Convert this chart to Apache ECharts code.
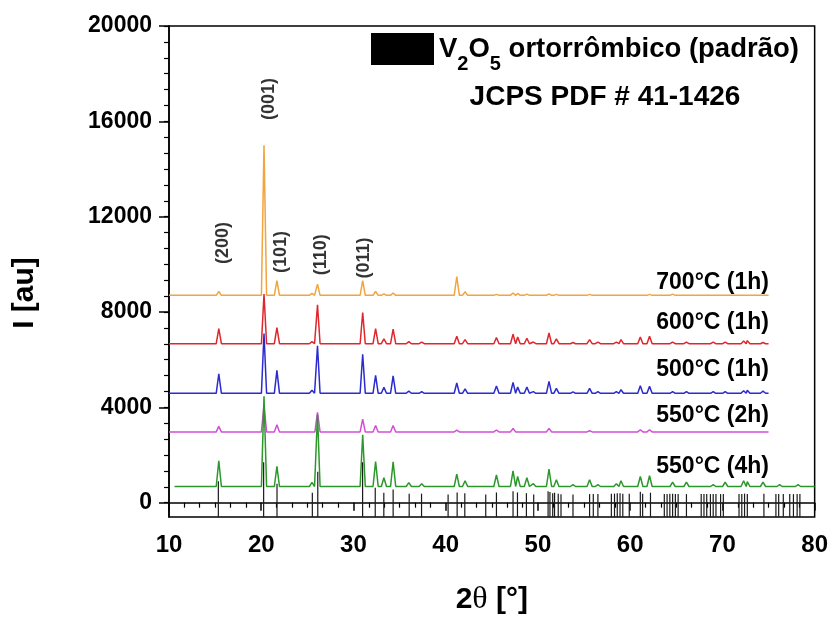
<!DOCTYPE html>
<html>
<head>
<meta charset="utf-8">
<title>DRX V2O5</title>
<script src="https://cdn.jsdelivr.net/npm/echarts@6.0.0/dist/echarts.min.js"></script>
<style>
    html, body { margin: 0; padding: 0; background: #fff; }
    #chart { width: 831px; height: 623px; }
</style>
</head>
<body>
<div id="chart"></div>
<script>
    var FONT = '"Liberation Sans", Arial, sans-serif';

    // posicoes dos picos (2theta) usadas pelas curvas
    var peakPos = [15.4, 20.3, 21.7, 25.5, 26.1, 31.0, 32.4, 33.3, 34.3, 36.0, 37.4, 41.2, 42.1, 45.5, 47.3, 47.8,
        48.8, 49.5, 51.2, 52.0, 53.8, 55.6, 56.5, 58.5, 59.0, 61.1, 62.1, 64.6, 66.1, 69.0, 70.3, 72.3, 72.7, 74.4, 76.2, 78.2];

    // intensidades (null = sem pico visivel)
    var base700 = 8700;
    var peaks700 = [8860, 15000, 9320, 8780, 9170, 9320, 8860, 8760, 8800, null, null, 9490, 8850, 8740, 8800, 8780,
        8750, null, 8760, 8740, null, 8740, null, null, null, null, 8740, 8750, null, null, null, null, null, null, null, null];
    var base600 = 6670;
    var peaks600 = [7300, 8750, 7350, 6760, 8300, 7980, 7300, 6870, 7280, 6760, 6740, 6980, 6840, 6930, 7070, 6950,
        6900, 6740, 7120, 6870, 6720, 6840, 6740, 6740, 6840, 6950, 6980, 6740, 6740, 6740, 6740, 6780, 6800, 6720, null, null];
    var base500 = 4590;
    var peaks500 = [5410, 7100, 5550, 4720, 6580, 6230, 5340, 4840, 5320, 4680, 4660, 5020, 4780, 4900, 5050, 4850,
        4850, 4660, 5090, 4800, 4650, 4800, 4660, 4660, 4740, 4910, 4880, 4660, 4660, 4660, 4660, 4700, 4720, 4680, null, null];
    var base550_2h = 2970;
    var peaks550_2h = [3200, 4100, 3270, null, 3790, 3510, 3240, null, 3240, null, null, 3040, null, 3050, 3110, null,
        null, null, 3110, null, null, 3020, null, null, null, 3060, 3060, null, null, null, null, null, null, null, null, null];
    var base550_4h = 680;
    var peaks550_4h = [1760, 4460, 1520, 850, 3700, 2850, 1730, 1050, 1710, 840, 800, 1200, 920, 1170, 1340, 1100,
        1050, 800, 1410, 960, 760, 960, 760, 800, 920, 1100, 1130, 860, 860, 760, 860, 920, 880, 860, 760, 760];

    // padrao JCPDS 41-1426
    var stickPos = [15.35, 20.26, 21.71, 25.54, 26.13, 30.99, 32.36, 33.29, 34.30, 36.04, 37.38, 40.26, 41.24, 42.07,
        44.34, 45.50, 47.30, 47.78, 48.75, 49.54, 51.10, 51.30, 51.60, 51.80, 52.20, 52.50, 53.80, 55.60, 56.00, 56.50,
        57.96, 58.30, 58.60, 58.90, 59.20, 59.90, 61.10, 61.35, 62.20, 63.70, 64.00, 64.30, 64.60, 64.90, 65.20, 66.10,
        67.70, 68.00, 68.30, 68.70, 69.00, 69.30, 69.80, 70.10, 71.80, 72.10, 72.40, 72.70, 74.50, 75.80, 76.10, 76.60,
        77.30, 77.70, 78.10, 78.40];
    var stickVal = [900, 1700, 800, 420, 1300, 1700, 630, 420, 550, 380, 380, 340, 430, 400,
        340, 430, 480, 430, 400, 340, 480, 450, 400, 420, 380, 350, 340, 360, 360, 360,
        380, 380, 400, 400, 380, 380, 460, 380, 420, 360, 360, 380, 380, 360, 360, 360,
        360, 360, 360, 360, 360, 360, 360, 360, 360, 360, 380, 360, 380, 360, 360, 360,
        360, 360, 360, 360];

    var hklNames = ['(200)', '(001)', '(101)', '(110)', '(011)'];
    var hklX = [15.85, 20.8, 22.1, 26.5, 31.1];
    var hklY = [10900, 16940, 10520, 10400, 10270];

    var sampleNames = ['700°C (1h)', '600°C (1h)', '500°C (1h)', '550°C (2h)', '550°C (4h)'];
    var yTicks = [0, 4000, 8000, 12000, 16000, 20000];
    var yMin = -600;

    var yMinor = [];
    for (var i = 0; i <= 30; i++) {
        yMinor.push(i * 20000 / 30);
    }

    // monta a curva: linha de base + picos
    function pattern(base, peaks, start, end) {
        var pts = [[start, base]];
        for (var i = 0; i < peakPos.length; i++) {
            if (peaks[i] == null) continue;
            pts.push([peakPos[i] - 0.28, base], [peakPos[i], peaks[i]], [peakPos[i] + 0.28, base]);
        }
        pts.push([end, base]);
        return pts;
    }

    function lineSeries(name, color, data) {
        return {
            name: name,
            type: 'line',
            data: data,
            showSymbol: false,
            symbol: 'none',
            lineStyle: { color: color, width: 1.5 },
            itemStyle: { color: color },
            animation: false
        };
    }

    var chart = echarts.init(document.getElementById('chart'));

    var legendName = 'V2O5 padrao';
    var sticks = [];
    for (var s = 0; s < stickPos.length; s++) sticks.push([stickPos[s], stickVal[s]]);

    var hklData = [];
    for (var h = 0; h < hklNames.length; h++) hklData.push({ name: hklNames[h], value: [hklX[h], hklY[h]] });

    var labelY = [283, 323, 370, 416, 467];
    var graphics = [];
    for (var k = 0; k < sampleNames.length; k++) {
        graphics.push({
            type: 'text', x: 769, y: labelY[k],
            style: { text: sampleNames[k], font: 'bold 23px ' + FONT, fill: '#000', align: 'right', verticalAlign: 'middle' }
        });
    }
    graphics.push({
        type: 'text', x: 605, y: 97,
        style: { text: 'JCPS PDF # 41-1426', font: 'bold 28px ' + FONT, fill: '#000', align: 'center', verticalAlign: 'middle' }
    });
    graphics.push({
        type: 'text', x: 25, y: 293, rotation: Math.PI / 2,
        style: { text: 'I [au]', font: 'bold 30px ' + FONT, fill: '#000', align: 'center', verticalAlign: 'middle' }
    });

    var option = {
        backgroundColor: '#fff',
        animation: false,
        grid: { left: 169, right: 16, top: 26, bottom: 106, show: true, borderColor: '#000', borderWidth: 1.5 },
        legend: {
            data: [legendName],
            left: 371, top: 33, padding: 0,
            icon: 'rect', itemWidth: 63, itemHeight: 32,
            formatter: function () { return 'V{sub|2}O{sub|5} ortorrômbico (padrão)'; },
            textStyle: {
                fontSize: 27.5, fontWeight: 'bold', fontFamily: FONT, color: '#000',
                rich: { sub: { fontSize: 20, fontWeight: 'bold', fontFamily: FONT, color: '#000', padding: [30, 0, 0, 0] } }
            }
        },
        xAxis: {
            type: 'value', min: 10, max: 80, interval: 10,
            name: '{b|2}{t|θ}{b| [°]}', nameLocation: 'middle', nameGap: 67,
            nameTextStyle: {
                rich: {
                    b: { fontSize: 30, fontWeight: 'bold', fontFamily: FONT, color: '#000' },
                    t: { fontSize: 32, fontFamily: '"Liberation Serif", serif', color: '#000' }
                }
            },
            axisLine: { show: true, lineStyle: { color: '#000', width: 1.5 } },
            axisTick: { show: true, length: 8, lineStyle: { color: '#000', width: 1.5 } },
            minorTick: { show: true, splitNumber: 6, length: 5, lineStyle: { color: '#000', width: 1.2 } },
            axisLabel: { fontSize: 24, fontWeight: 'bold', fontFamily: FONT, color: '#000', margin: 16 },
            splitLine: { show: false }
        },
        yAxis: [{
            type: 'value', min: yMin, max: 20000,
            axisLine: { show: true, lineStyle: { color: '#000', width: 1.5 } },
            axisTick: { show: true, customValues: yTicks, length: 10, lineStyle: { color: '#000', width: 1.5 } },
            axisLabel: {
                customValues: yTicks, fontSize: 23, fontWeight: 'bold', fontFamily: FONT, color: '#000', margin: 17,
                formatter: function (v) { return String(v); }
            },
            splitLine: { show: false }
        }, {
            type: 'value', min: yMin, max: 20000, position: 'left',
            axisLine: { show: false },
            axisTick: { show: true, customValues: yMinor, length: 5, lineStyle: { color: '#000', width: 1.2 } },
            axisLabel: { show: false },
            splitLine: { show: false }
        }],
        graphic: graphics,
        series: [
            {
                name: legendName,
                type: 'custom',
                data: sticks,
                encode: { x: 0, y: 1 },
                itemStyle: { color: '#000' },
                renderItem: function (params, api) {
                    var p0 = api.coord([api.value(0), yMin]);
                    var p1 = api.coord([api.value(0), api.value(1)]);
                    return {
                        type: 'line',
                        shape: { x1: p0[0], y1: p0[1], x2: p1[0], y2: p1[1] },
                        style: { stroke: '#1a1a1a', lineWidth: 1.2 }
                    };
                }
            },
            lineSeries(sampleNames[0], '#F2A43F', pattern(base700, peaks700, 10, 75)),
            lineSeries(sampleNames[1], '#E0262C', pattern(base600, peaks600, 10, 75)),
            lineSeries(sampleNames[2], '#2B2BD0', pattern(base500, peaks500, 10, 75)),
            lineSeries(sampleNames[3], '#D24ED6', pattern(base550_2h, peaks550_2h, 10, 75)),
            lineSeries(sampleNames[4], '#2C982C', pattern(base550_4h, peaks550_4h, 10.6, 80)),
            {
                name: 'hkl',
                type: 'scatter',
                data: hklData,
                symbolSize: 0,
                silent: true,
                label: {
                    show: true, position: 'inside', rotate: 90,
                    formatter: '{h|{b}}',
                    rich: { h: { fontSize: 18, fontWeight: 'bold', fontFamily: FONT, color: '#000' } }
                }
            }
        ]
    };

    chart.setOption(option);
</script>
</body>
</html>
